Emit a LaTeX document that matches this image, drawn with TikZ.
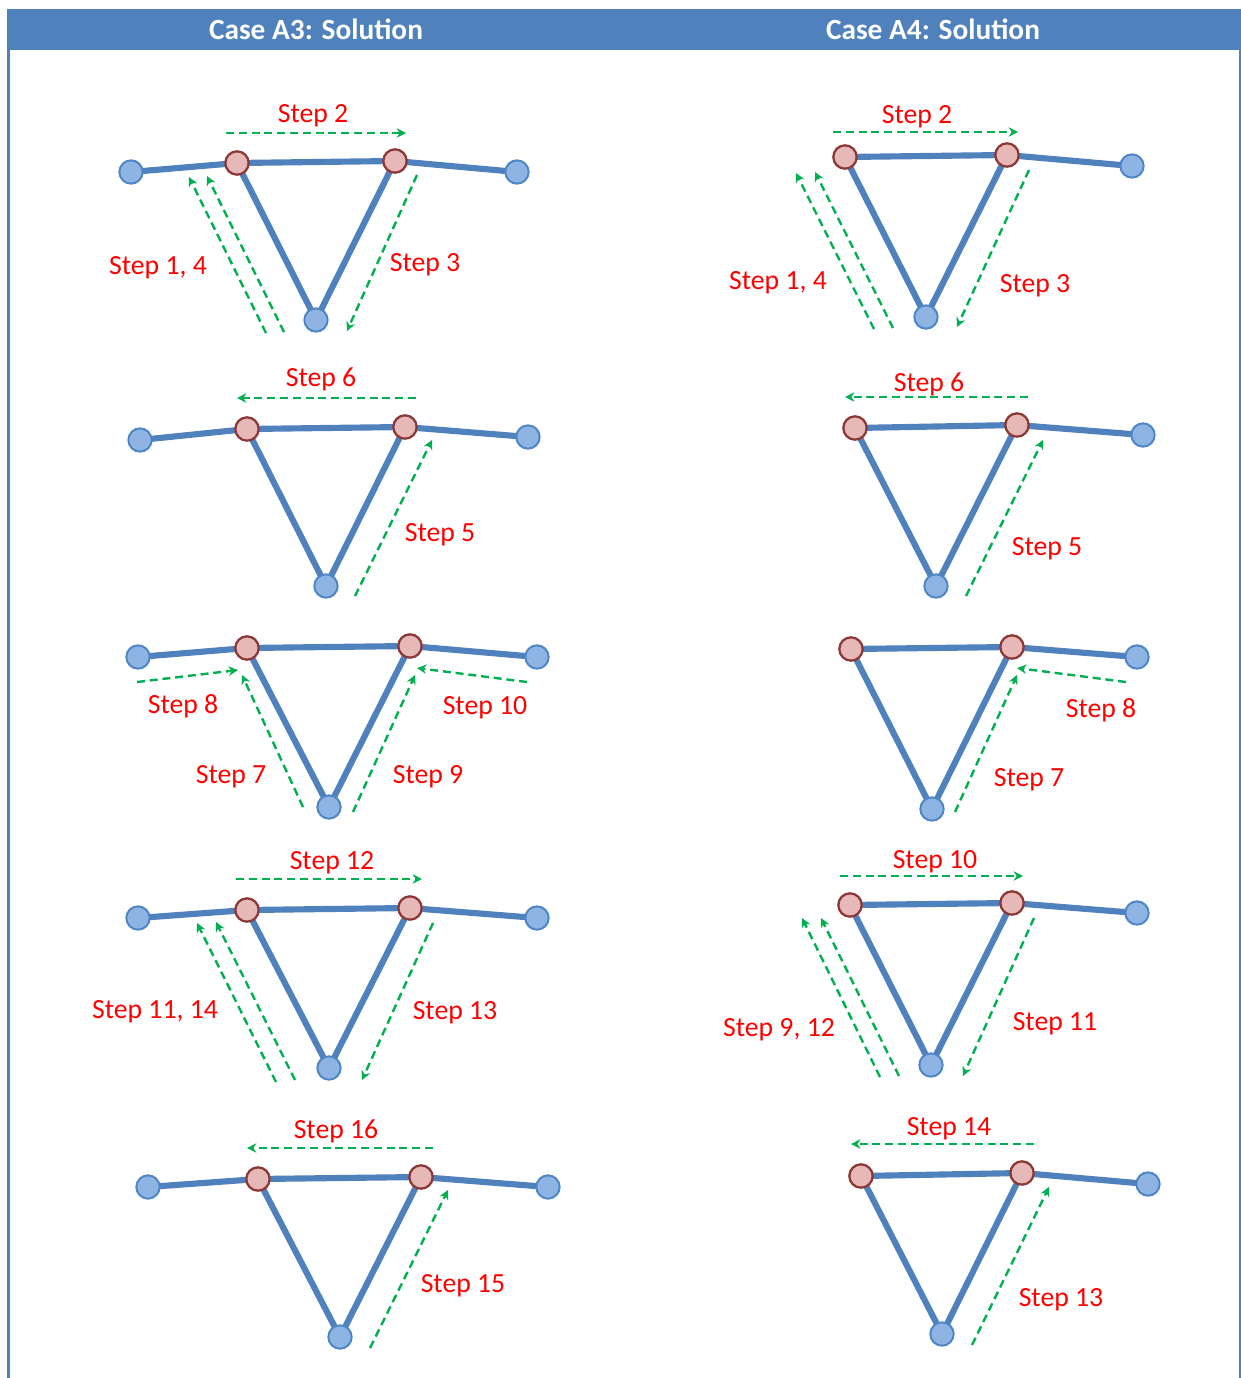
\documentclass[tikz,border=0pt]{standalone}
\usepackage{fontspec}
\setmainfont{Carlito}
\usetikzlibrary{arrows.meta}
\pgfdeclarelayer{paper}
\pgfdeclarelayer{members}
\pgfsetlayers{paper,members,main}
\definecolor{hdrblue}{HTML}{4F81BD}
\definecolor{memblue}{HTML}{4F81BD}
\definecolor{nodeblue}{HTML}{8EB4E3}
\definecolor{nodeblueb}{HTML}{4F86C6}
\definecolor{nodered}{HTML}{E6B9B8}
\definecolor{noderedb}{HTML}{8C3836}
\definecolor{stepgreen}{HTML}{00B050}
\definecolor{stepred}{HTML}{FF0000}
\tikzset{
  bnode/.style={circle,fill=nodeblue,draw=nodeblueb,line width=1.5pt,minimum size=17.5pt,inner sep=0pt},
  rnode/.style={circle,fill=nodered,draw=noderedb,line width=1.7pt,minimum size=17.5pt,inner sep=0pt},
  member/.style={draw=memblue,line width=4.6pt,line join=round},
  garrow/.style={draw=stepgreen,line width=1.8pt,dash pattern=on 6pt off 3.6pt,-{Stealth[length=7pt,width=7pt]}},
  steplbl/.style={text=stepred,font=\fontsize{20.8pt}{24pt}\selectfont,inner sep=0pt,yshift=-1.8pt},
  hdr/.style={text=white,font=\bfseries\fontsize{22pt}{26pt}\selectfont,inner sep=0pt},
}
\newcommand\trussfull[6]{%
  \node[bnode] (#1L) at (#2) {};
  \node[rnode] (#1a) at (#3) {};
  \node[rnode] (#1b) at (#4) {};
  \node[bnode] (#1R) at (#5) {};
  \node[bnode] (#1B) at (#6) {};
  \begin{pgfonlayer}{members}
    \draw[member] (#1L.center) -- (#1a.center) -- (#1b.center) -- (#1R.center);
    \draw[member] (#1a.center) -- (#1B.center) -- (#1b.center);
  \end{pgfonlayer}}
\newcommand\trusshalf[5]{%
  \node[rnode] (#1a) at (#2) {};
  \node[rnode] (#1b) at (#3) {};
  \node[bnode] (#1R) at (#4) {};
  \node[bnode] (#1B) at (#5) {};
  \begin{pgfonlayer}{members}
    \draw[member] (#1a.center) -- (#1b.center) -- (#1R.center);
    \draw[member] (#1a.center) -- (#1B.center) -- (#1b.center);
  \end{pgfonlayer}}
\newcommand\garr[3]{%
  \coordinate (#1s) at (#2);
  \coordinate (#1e) at (#3);
  \draw[garrow] (#1s) -- (#1e);}
\begin{document}
\begin{tikzpicture}[x=0.75pt,y=-0.75pt]
\useasboundingbox (0,0) rectangle (1241,1378);
\begin{pgfonlayer}{paper}
\fill[white] (0,0) rectangle (1241,1378);
\end{pgfonlayer}
% frame
\fill[hdrblue] (7,9) rectangle (1241,49.5);
\draw[hdrblue,line width=2.2pt] (8.5,49) -- (8.5,1378);
\draw[hdrblue,line width=1.5pt] (1240,49) -- (1240,1378);
\node[hdr] (h3) at (316,29) {Case A3: Solution};
\node[hdr] (h4) at (933,29) {Case A4: Solution};

% ===== Case A3 =====
% row 1
\trussfull{p}{131,172}{237,163}{395,161}{517,172}{316,320}
\garr{p2}{226,133}{406,133}
\garr{p1}{266,333}{189,177}
\garr{p4}{284,332}{207,176}
\garr{p3}{417,175}{347,331}
\node[steplbl] (pl2) at (313,113) {Step 2};
\node[steplbl] (pl14) at (158,265) {Step 1, 4};
\node[steplbl] (pl3) at (425,262) {Step 3};
% row 2
\trussfull{q}{140,440}{247,429}{405,427}{528,437}{326,586}
\garr{q6}{416,398}{237,398}
\garr{q5}{355,596}{432,440}
\node[steplbl] (ql6) at (321,377) {Step 6};
\node[steplbl] (ql5) at (440,532) {Step 5};
% row 3
\trussfull{r}{138,657}{247,648}{410,646}{537,657}{329,807}
\garr{r8}{137,682}{238,670}
\garr{r7}{303,807}{242,675}
\garr{r9}{353,812}{415,675}
\garr{r10}{527,682}{417,668}
\node[steplbl] (rl8) at (183,704) {Step 8};
\node[steplbl] (rl10) at (485,705) {Step 10};
\node[steplbl] (rl7) at (231,774) {Step 7};
\node[steplbl] (rl9) at (428,774) {Step 9};
% row 4
\trussfull{s}{138,918}{247,910}{410,908}{537,918}{329,1068}
\garr{s12}{236,879}{422,879}
\garr{s11}{276,1082}{197,923}
\garr{s14}{295,1080}{216,922}
\garr{s13}{433,923}{362,1080}
\node[steplbl] (sl12) at (332,860) {Step 12};
\node[steplbl] (sl1114) at (155,1009) {Step 11, 14};
\node[steplbl] (sl13) at (455,1010) {Step 13};
% row 5
\trussfull{t}{148,1187}{258,1179}{421,1177}{548,1187}{340,1337}
\garr{t16}{433,1148}{247,1148}
\garr{t15}{370,1348}{448,1190}
\node[steplbl] (tl16) at (336,1129) {Step 16};
\node[steplbl] (tl15) at (463,1283) {Step 15};

% ===== Case A4 =====
% row 1
\trusshalf{u}{845,157}{1007,155}{1132,166}{926,317}
\garr{u2}{833,132}{1018,132}
\garr{u1}{874,329}{796,173}
\garr{u4}{893,328}{815,172}
\garr{u3}{1029,170}{957,327}
\node[steplbl] (ul2) at (917,114) {Step 2};
\node[steplbl] (ul14) at (778,280) {Step 1, 4};
\node[steplbl] (ul3) at (1035,283) {Step 3};
% row 2
\trusshalf{v}{855,428}{1017,425}{1143,435}{936,586}
\garr{v6}{1028,397}{845,397}
\garr{v5}{966,596}{1043,440}
\node[steplbl] (vl6) at (929,382) {Step 6};
\node[steplbl] (vl5) at (1047,546) {Step 5};
% row 3
\trusshalf{w}{851,649}{1012,647}{1137,657}{932,809}
\garr{w8}{1126,682}{1017,668}
\garr{w7}{955,812}{1017,675}
\node[steplbl] (wl8) at (1101,708) {Step 8};
\node[steplbl] (wl7) at (1029,777) {Step 7};
% row 4
\trusshalf{x}{850,905}{1012,903}{1137,913}{931,1065}
\garr{x10}{840,876}{1023,876}
\garr{x9}{880,1077}{802,918}
\garr{x12}{899,1076}{821,918}
\garr{x11}{1034,918}{963,1076}
\node[steplbl] (xl10) at (935,859) {Step 10};
\node[steplbl] (xl912) at (779,1027) {Step 9, 12};
\node[steplbl] (xl11) at (1055,1021) {Step 11};
% row 5
\trusshalf{y}{861,1176}{1022,1173}{1148,1184}{942,1334}
\garr{y14}{1034,1144}{851,1144}
\garr{y13}{972,1345}{1049,1187}
\node[steplbl] (yl14) at (949,1126) {Step 14};
\node[steplbl] (yl13) at (1061,1297) {Step 13};
\end{tikzpicture}
\end{document}
